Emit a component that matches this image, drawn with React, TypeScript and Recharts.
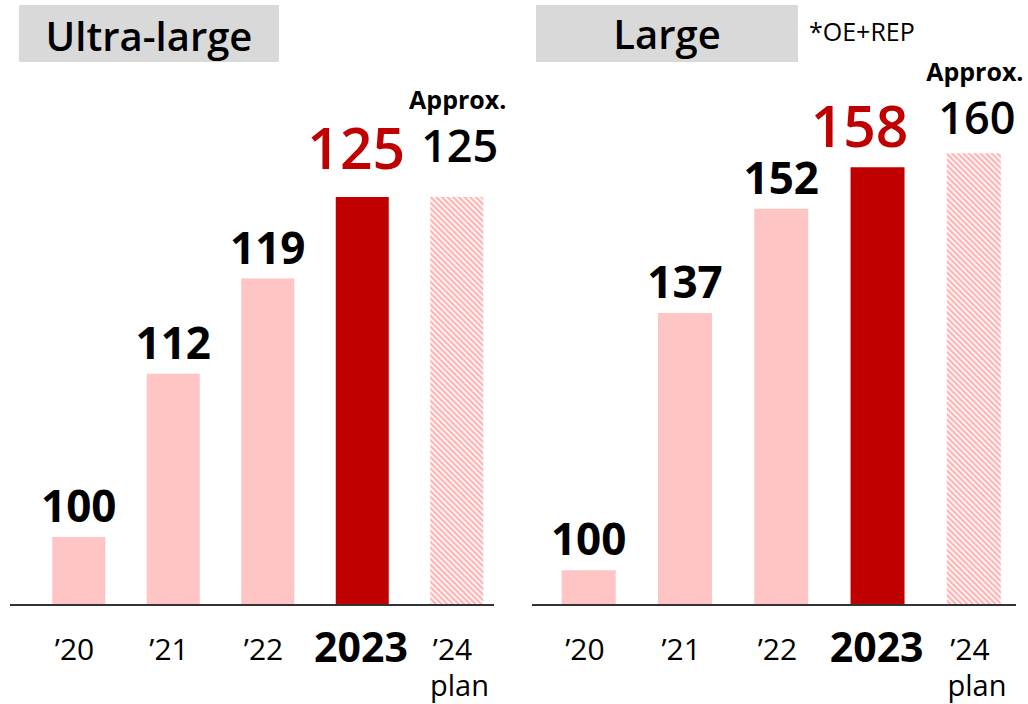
import React from "react";
import { BarChart, Bar, XAxis, YAxis, Cell, LabelList } from "recharts";

const categories = ["’20", "’21", "’22", "2023", "’24"];
const ultraLargeValues = [100, 112, 119, 125, 125];
const largeValues = [100, 137, 152, 158, 160];
const planSubLabel = "plan";
const approxLabel = "Approx.";
const titles = ["Ultra-large", "Large"];
const noteText = "*OE+REP";

const FONT = "'Open Sans', 'Noto Sans', sans-serif";
const PINK = "#FFC4C4";
const HATCH = "#FFB3B3";
const RED = "#C00000";

type Cfg = {
  id: string;
  values: number[];
  left: number;
  width: number;
  marginTop: number;
  marginLeft: number;
  marginRight: number;
  padLeft: number;
  padRight: number;
  domainMax: number;
  barSize: number;
  redGap: number;
  redDx: number;
  planGap: number;
};

function makeLabel(cfg: Cfg) {
  return (props: any) => {
    const { x, y, width, value, index } = props;
    const cx = Number(x) + Number(width) / 2;
    const top = Number(y);
    if (index === 3) {
      return (
        <text x={cx + cfg.redDx} y={top - cfg.redGap} textAnchor="middle" fill={RED}
          fontFamily={FONT} fontSize={57} fontWeight={600}>{value}</text>
      );
    }
    if (index === 4) {
      const base = top - cfg.planGap;
      return (
        <g>
          <text x={cx + 1} y={base - 53} textAnchor="middle" fill="#000"
            fontFamily={FONT} fontSize={25} fontWeight={700}>{approxLabel}</text>
          <text x={cx + 3} y={base} textAnchor="middle" fill="#000"
            fontFamily={FONT} fontSize={45} fontWeight={600}>{value}</text>
        </g>
      );
    }
    return (
      <text x={cx} y={top - 15} textAnchor="middle" fill="#000"
        fontFamily={FONT} fontSize={44} fontWeight={700}>{value}</text>
    );
  };
}

function Tick(props: any) {
  const { x, y, payload, index } = props;
  const bold = payload.value === "2023";
  return (
    <g>
      <text x={x - (bold ? 1 : 4)} y={y + (bold ? 57 : 55)} textAnchor="middle" fill="#000"
        fontFamily={FONT} fontSize={bold ? 41 : 30} fontWeight={bold ? 700 : 400}>
        {payload.value}
      </text>
      {index === 4 ? (
        <text x={x + 3} y={y + 91} textAnchor="middle" fill="#000"
          fontFamily={FONT} fontSize={29} fontWeight={400}>{planSubLabel}</text>
      ) : null}
    </g>
  );
}

function Panel({ cfg }: { cfg: Cfg }) {
  const data = categories.map((c, i) => ({ name: c, value: cfg.values[i] }));
  const hatchId = "hatch-" + cfg.id;
  return (
    <div style={{ position: "absolute", left: cfg.left, top: 0 }}>
      <BarChart width={cfg.width} height={704} data={data}
        margin={{ top: cfg.marginTop, right: cfg.marginRight, left: cfg.marginLeft, bottom: 0 }}>
        <defs>
          <pattern id={hatchId} patternUnits="userSpaceOnUse" width={4} height={4}
            patternTransform="rotate(-45)">
            <rect x={0} y={0} width={4} height={4} fill="#ffffff" />
            <rect x={0} y={0} width={2.3} height={4} fill={HATCH} />
          </pattern>
        </defs>
        <XAxis dataKey="name" height={99} tickLine={false} tickSize={0} tickMargin={0}
          axisLine={{ stroke: "#333333", strokeWidth: 2 }} interval={0}
          padding={{ left: cfg.padLeft, right: cfg.padRight }} tick={<Tick />} />
        <YAxis hide domain={[95, cfg.domainMax]} allowDataOverflow />
        <Bar dataKey="value" barSize={cfg.barSize} isAnimationActive={false}>
          {data.map((d, i) => (
            <Cell key={d.name} fill={i === 3 ? RED : i === 4 ? `url(#${hatchId})` : PINK} />
          ))}
          <LabelList dataKey="value" content={makeLabel(cfg)} />
        </Bar>
      </BarChart>
    </div>
  );
}

const leftCfg: Cfg = {
  id: "ul", values: ultraLargeValues, left: 0, width: 520,
  marginTop: 61, marginLeft: 10, marginRight: 26, padLeft: 21.25, padRight: -9.75,
  domainMax: 135, barSize: 53, redGap: 28, redDx: -6, planGap: 35,
};

const rightCfg: Cfg = {
  id: "lg", values: largeValues, left: 520, width: 508,
  marginTop: 49, marginLeft: 12, marginRight: 12, padLeft: 8.7, padRight: -6.1,
  domainMax: 175, barSize: 54, redGap: 20, redDx: -18, planGap: 19,
};

export default function App() {
  return (
    <div style={{ position: "absolute", left: 0, top: 0, width: 1028, height: 704, background: "#fff", overflow: "hidden" }}>
      <Panel cfg={leftCfg} />
      <Panel cfg={rightCfg} />
      <svg width={1028} height={704} style={{ position: "absolute", left: 0, top: 0, pointerEvents: "none" }}>
        <rect x={19} y={5} width={260} height={57} fill="#D9D9D9" />
        <text x={149} y={51} textAnchor="middle" fontFamily={FONT} fontSize={40} fontWeight={600} fill="#000">{titles[0]}</text>
        <rect x={536} y={5} width={262} height={57} fill="#D9D9D9" />
        <text x={667} y={49} textAnchor="middle" fontFamily={FONT} fontSize={40} fontWeight={600} fill="#000">{titles[1]}</text>
        <text x={809} y={41} textAnchor="start" fontFamily={FONT} fontSize={25} fontWeight={400} fill="#000">{noteText}</text>
      </svg>
    </div>
  );
}
